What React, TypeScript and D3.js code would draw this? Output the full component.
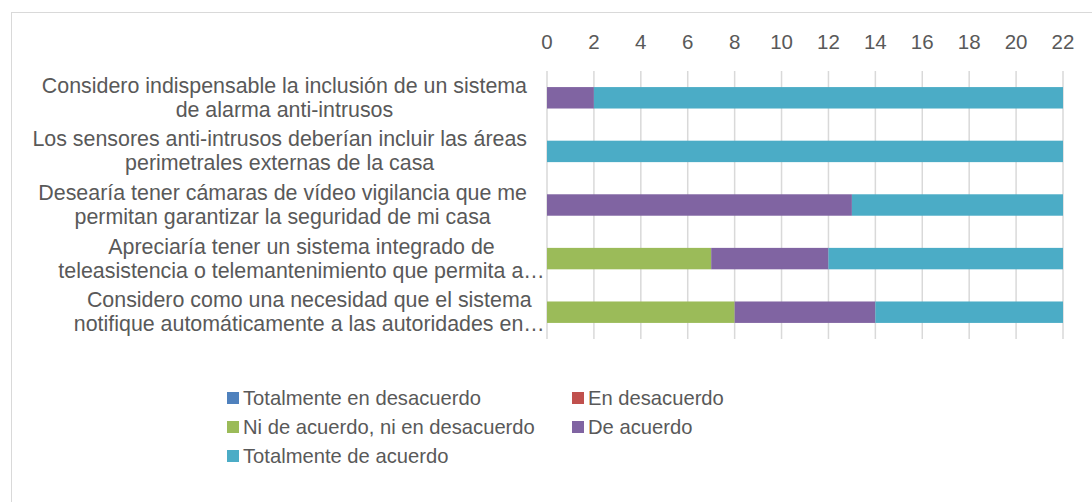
import React, { useEffect, useRef } from 'react';
import * as d3 from 'd3';

// categorías (texto tal como se ve, con salto de línea)
const categories = [
  'Considero indispensable la inclusión de un sistema\nde alarma anti-intrusos',
  'Los sensores anti-intrusos deberían incluir las áreas\nperimetrales externas de la casa',
  'Desearía tener cámaras de vídeo vigilancia que me\npermitan garantizar la seguridad de mi casa',
  'Apreciaría tener un sistema integrado de\nteleasistencia o telemantenimiento que permita a…',
  'Considero como una necesidad que el sistema\nnotifique automáticamente a las autoridades en…',
];

const seriesNames = [
  'Totalmente en desacuerdo',
  'En desacuerdo',
  'Ni de acuerdo, ni en desacuerdo',
  'De acuerdo',
  'Totalmente de acuerdo',
];

const totalmenteEnDesacuerdo = [0, 0, 0, 0, 0];
const enDesacuerdo = [0, 0, 0, 0, 0];
const niDeAcuerdo = [0, 0, 0, 7, 8];
const deAcuerdo = [2, 0, 13, 5, 6];
const totalmenteDeAcuerdo = [20, 22, 9, 10, 8];

const xTicks = [0, 2, 4, 6, 8, 10, 12, 14, 16, 18, 20, 22];

const colors = ['#4F81BD', '#C0504D', '#9BBB59', '#8064A2', '#4BACC6'];

const App = () => {
  const svgRef = useRef<SVGSVGElement>(null);

  useEffect(() => {
    const width = 1092;
    const height = 502;
    const font = 'Arial, "Liberation Sans", sans-serif';
    const textColor = '#595959';

    const svg = d3.select(svgRef.current);
    svg.selectAll('*').remove();
    svg.attr('width', width).attr('height', height);

    // marco del gráfico
    svg.append('rect')
      .attr('x', 11.5).attr('y', 12.5)
      .attr('width', width + 20).attr('height', height + 20)
      .attr('fill', '#fff').attr('stroke', '#d9d9d9').attr('stroke-width', 1);

    const xScale = d3.scaleLinear().domain([0, 22]).range([547, 1063]);
    const yScale = d3.scaleBand<number>()
      .domain(d3.range(categories.length))
      .range([71, 339])
      .paddingInner(0.6)
      .paddingOuter(0.3);

    // líneas de cuadrícula
    svg.append('g')
      .selectAll('line')
      .data(xTicks)
      .join('line')
      .attr('x1', d => xScale(d)).attr('x2', d => xScale(d))
      .attr('y1', 71).attr('y2', 339)
      .attr('stroke', '#d9d9d9').attr('stroke-width', 1.5);

    // etiquetas del eje superior
    svg.append('g')
      .selectAll('text')
      .data(xTicks)
      .join('text')
      .attr('x', d => xScale(d))
      .attr('y', 41)
      .attr('text-anchor', 'middle')
      .attr('dominant-baseline', 'central')
      .attr('font-family', font)
      .attr('font-size', 20.5)
      .attr('fill', textColor)
      .text(d => d);

    // barras apiladas
    const rows = categories.map((c, i) => ({
      idx: i,
      s0: totalmenteEnDesacuerdo[i],
      s1: enDesacuerdo[i],
      s2: niDeAcuerdo[i],
      s3: deAcuerdo[i],
      s4: totalmenteDeAcuerdo[i],
    }));
    const stacked = d3.stack<any>().keys(['s0', 's1', 's2', 's3', 's4'])(rows);

    svg.append('g')
      .selectAll('g')
      .data(stacked)
      .join('g')
      .attr('fill', (d, i) => colors[i])
      .selectAll('rect')
      .data(d => d)
      .join('rect')
      .attr('x', d => xScale(d[0]))
      .attr('y', d => yScale(d.data.idx)!)
      .attr('width', d => xScale(d[1]) - xScale(d[0]))
      .attr('height', yScale.bandwidth());

    // etiquetas de categoría
    const labelG = svg.append('g')
      .attr('font-family', font)
      .attr('font-size', 21.4)
      .attr('fill', textColor);

    categories.forEach((c, i) => {
      const lines = c.split('\n');
      const cut = c.includes('…');
      const cy = yScale(i)! + yScale.bandwidth() / 2;
      const texts = lines.map((line, j) =>
        labelG.append('text')
          .attr('y', cy + (j - (lines.length - 1) / 2) * 24)
          .attr('text-anchor', 'middle')
          .attr('dominant-baseline', 'central')
          .text(line.replace('…', ''))
      );
      const widths = texts.map(t => (t.node() as SVGTextElement).getComputedTextLength());
      const blockW = d3.max(widths) || 0;
      const center = (cut ? 534 : 527) - blockW / 2;
      texts.forEach((t, j) => t.attr('x', center).text(lines[j]));
    });

    // leyenda
    const legend = svg.append('g')
      .attr('font-family', font)
      .attr('font-size', 20.2)
      .attr('fill', textColor);
    const colX = [227, 572];
    const rowY = [398, 427, 456];
    seriesNames.forEach((name, i) => {
      const x = colX[i % 2];
      const y = rowY[Math.floor(i / 2)];
      legend.append('rect')
        .attr('x', x).attr('y', y - 6)
        .attr('width', 12).attr('height', 12)
        .attr('fill', colors[i]);
      legend.append('text')
        .attr('x', x + 16).attr('y', y)
        .attr('dominant-baseline', 'central')
        .text(name);
    });
  }, []);

  return (
    <svg ref={svgRef} style={{ position: 'absolute', left: 0, top: 0, display: 'block' }}></svg>
  );
};

export default App;
